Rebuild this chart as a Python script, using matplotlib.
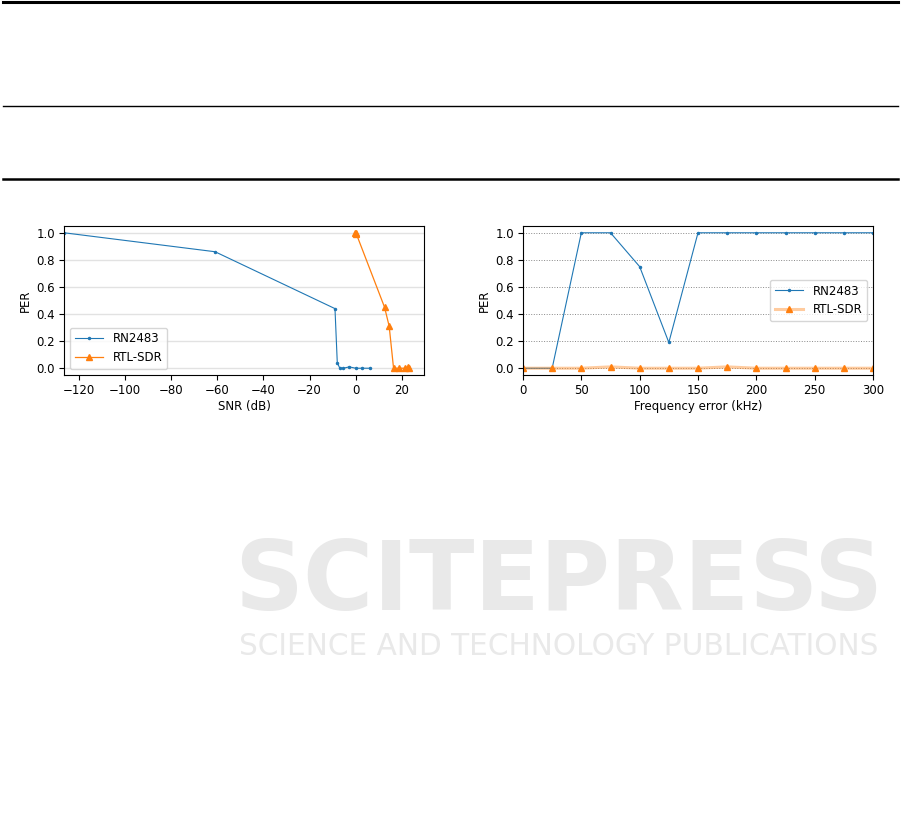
import matplotlib
matplotlib.use("Agg")
import matplotlib.pyplot as plt
from matplotlib.lines import Line2D

# ---- data ----
snr_rn = [-126.5, -61, -9, -8, -6.9, -5.4, -2.8, 0, 2.9, 6.0]
per_rn_snr = [1.0, 0.86, 0.44, 0.04, 0.0, 0.0, 0.01, 0.0, 0.0, 0.0]
snr_rtl = [-0.5, 0.0, 0.3, 12.5, 14.5, 16.4, 18.9, 21.5, 22.5, 23.1]
per_rtl_snr = [1.0, 1.0, 0.99, 0.45, 0.31, 0.0, 0.0, 0.0, 0.01, 0.0]

ferr = [0, 25, 50, 75, 100, 125, 150, 175, 200, 225, 250, 275, 300]
per_rn_f = [0, 0, 1.0, 1.0, 0.75, 0.19, 1.0, 1.0, 1.0, 1.0, 1.0, 1.0, 1.0]
per_rtl_f = [0, 0, 0, 0.01, 0, 0, 0, 0.01, 0, 0, 0, 0, 0]

xticks_snr = [-120, -100, -80, -60, -40, -20, 0, 20]
xticks_f = [0, 50, 100, 150, 200, 250, 300]
yticks = [0.0, 0.2, 0.4, 0.6, 0.8, 1.0]

BLUE = "#1f77b4"
ORANGE = "#ff7f0e"
FS = 8.5

fig = plt.figure(figsize=(9.01, 8.30), dpi=100)

# page rules (table borders above the figure)
fig.add_artist(Line2D([3/901, 898/901], [1 - 2/830, 1 - 2/830], color="black", lw=2.2))
fig.add_artist(Line2D([3/901, 898/901], [1 - 106/830, 1 - 106/830], color="black", lw=1.0))
fig.add_artist(Line2D([3/901, 898/901], [1 - 179/830, 1 - 179/830], color="black", lw=1.8))

# watermark
wm = "#e9e9e9"
fig.text(559/901, 1 - 583/830, "SCITEPRESS", color=wm, fontsize=69, fontweight="bold",
         ha="center", va="center", zorder=0)
fig.text(559/901, 1 - 646/830, "SCIENCE AND TECHNOLOGY PUBLICATIONS", color=wm, fontsize=21.3,
         ha="center", va="center", zorder=0)

# ---- left axes ----
ax1 = fig.add_axes([64/901, 1 - 375/830, 360/901, 149/830])
ax1.plot(snr_rn, per_rn_snr, color=BLUE, lw=0.8, marker=".", ms=3, label="RN2483")
ax1.plot(snr_rtl, per_rtl_snr, color=ORANGE, lw=0.9, marker="^", ms=4, label="RTL-SDR")
ax1.set_xlim(-126.5, 29.6)
ax1.set_ylim(-0.05, 1.05)
ax1.set_xticks(xticks_snr)
ax1.set_yticks(yticks)
ax1.yaxis.grid(True, color="#e2e2e2", lw=1.0)
ax1.set_axisbelow(True)
ax1.set_xlabel("SNR (dB)", fontsize=FS, labelpad=2)
ax1.set_ylabel("PER", fontsize=FS, labelpad=3)
ax1.tick_params(labelsize=FS, length=3.5, width=0.8, pad=3)
ax1.legend(loc="lower left", fontsize=FS, framealpha=0.8, handlelength=2.4)

# ---- right axes ----
ax2 = fig.add_axes([523/901, 1 - 375/830, 350/901, 149/830])
ax2.plot(ferr, per_rn_f, color=BLUE, lw=0.8, marker=".", ms=3, label="RN2483")
ax2.plot(ferr, per_rtl_f, color=(1.0, 0.498, 0.055, 0.4), lw=2.2, marker="^", ms=4,
         mfc=ORANGE, mec=ORANGE, label="RTL-SDR")
ax2.set_xlim(0, 300)
ax2.set_ylim(-0.05, 1.05)
ax2.set_xticks(xticks_f)
ax2.set_yticks(yticks)
ax2.yaxis.grid(True, color="#888888", lw=0.7, ls=":")
ax2.set_axisbelow(True)
ax2.set_xlabel("Frequency error (kHz)", fontsize=FS, labelpad=2)
ax2.set_ylabel("PER", fontsize=FS, labelpad=3)
ax2.tick_params(labelsize=FS, length=3.5, width=0.8, pad=3)
ax2.legend(loc="center right", fontsize=FS, framealpha=0.8, handlelength=2.4)

fig.savefig("out.png", dpi=100)
